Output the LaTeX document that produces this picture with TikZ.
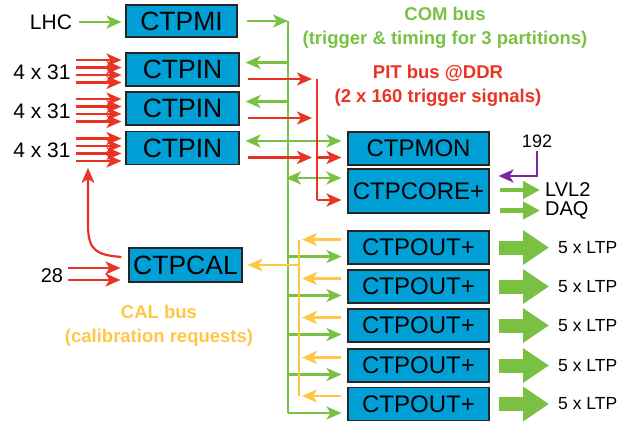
\documentclass[tikz,border=0pt]{standalone}
\usepackage{fontspec}
\setmainfont{Liberation Sans}
\usepackage{xcolor}
\usetikzlibrary{arrows.meta,calc}

\definecolor{ctpblue}{RGB}{0,160,215}
\definecolor{comgreen}{RGB}{122,193,67}
\definecolor{pitred}{RGB}{234,51,35}
\definecolor{calyellow}{RGB}{254,200,70}
\definecolor{lvlpurple}{RGB}{128,40,160}

\begin{document}
\begin{tikzpicture}[
  x=1pt, y=-1pt,
  unit/.style={draw=black!85, fill=ctpblue, line width=1.1pt, inner sep=0pt,
               font=\fontsize{26.5}{28}\selectfont},
  wideunit/.style={unit, minimum width=141pt, minimum height=33pt,
               font=\fontsize{24}{26}\selectfont},
  lbl/.style={font=\fontsize{21}{24}\selectfont},
  buslbl/.style={align=center, font=\bfseries\fontsize{18.5}{24}\selectfont},
  tip/.style={-{Stealth[length=15pt, width=13pt, inset=4pt]}},
  comline/.style={draw=comgreen, line width=2.6pt},
  comarrow/.style={comline, tip},
  comboth/.style={comline, {Stealth[length=15pt, width=13pt, inset=4pt]}-{Stealth[length=15pt, width=13pt, inset=4pt]}},
  pitline/.style={draw=pitred, line width=2.4pt},
  pitarrow/.style={pitline, tip},
  calline/.style={draw=calyellow, line width=2.6pt},
  calarrow/.style={calline, tip},
  trigarrow/.style={draw=lvlpurple, line width=2.6pt, tip},
  corearrow/.style={draw=comgreen, line width=4.5pt, -{Triangle[length=17pt, width=17pt]}},
  ltparrow/.style={draw=comgreen, line width=14pt, -{Triangle[length=26pt, width=33pt]}},
]
  \useasboundingbox (0,0) rectangle (623,422);

  % boards
  \node[unit, minimum width=111pt, minimum height=32pt] (mi) at (181.5,21) {CTPMI};
  \node[unit, minimum width=113pt, minimum height=33pt] (in1) at (182.5,69.5) {CTPIN};
  \node[unit, minimum width=113pt, minimum height=33pt] (in2) at (182.5,108.5) {CTPIN};
  \node[unit, minimum width=113pt, minimum height=33pt] (in3) at (182.5,148) {CTPIN};
  \node[unit, minimum width=113pt, minimum height=34pt] (cal) at (185.5,265) {CTPCAL};
  \node[wideunit] (mon) at (418.5,148.5) {CTPMON};
  \node[wideunit, minimum height=44pt] (core) at (418.5,191) {CTPCORE+};
  \foreach \i/\y in {1/247.5, 2/286.5, 3/325.5, 4/365.5, 5/404} {
    \node[wideunit] (out\i) at (418.5,\y) {CTPOUT+};
    \node[anchor=west, inner sep=1pt, font=\fontsize{17.5}{20}\selectfont] (ltp\i) at (557,\y) {5 x LTP};
  }

  % inputs and outputs
  \node[lbl] (lhc) at (51,22) {LHC};
  \node[lbl] (n1) at (42,72) {4 x 31};
  \node[lbl] (n2) at (42,111) {4 x 31};
  \node[lbl] (n3) at (42,150) {4 x 31};
  \node[font=\fontsize{20}{22}\selectfont] (calin) at (52,276) {28};
  \node[font=\fontsize{18}{20}\selectfont] (trig) at (537,141) {192};
  \node[anchor=west, inner sep=0pt, font=\fontsize{20}{22}\selectfont] (lvl) at (545,190) {LVL2};
  \node[anchor=west, inner sep=0pt, font=\fontsize{20}{22}\selectfont] (daq) at (545,210.5) {DAQ};

  % bus labels
  \node[buslbl, text=comgreen] (comlbl) at (445,28) {COM bus\\(trigger \& timing for 3 partitions)};
  \node[buslbl, text=pitred] (pitlbl) at (438,86) {PIT bus @DDR\\(2 x 160 trigger signals)};
  \node[buslbl, text=calyellow] (callbl) at (159,326) {CAL bus\\(calibration requests)};

  \coordinate (busTop) at (288,21);
  \coordinate (busBot) at (288,413);
  \coordinate (pitTop) at (317,79);
  \coordinate (pitBot) at (317,200);
  \coordinate (calTop) at (299,239.5);
  \coordinate (calBot) at (299,396);
  \coordinate (calfb) at (88,168);

  % COM bus
  \draw[comarrow, shorten <=3pt, shorten >=4pt] (lhc.east) -- (lhc.east -| mi.west);
  \draw[comline] (busTop) -- (busBot);
  \draw[comarrow, shorten <=9pt] (mi.east) -- (busTop);
  \foreach \i in {1,2,3} {
    \coordinate (g\i) at ($(in\i.east)+(0,-7)$);
    \coordinate (r\i) at ($(in\i.east)+(0,9.5)$);
  }
  \foreach \i in {1,2} {
    \draw[comarrow, shorten >=6pt] (g\i -| busTop) -- (g\i);
  }
  \draw[comboth, shorten <=6pt, shorten >=6pt] (g3) -- (g3 -| mon.west);
  \coordinate (gc) at ($(core.west)+(0,-13)$);
  \draw[comboth, shorten <=-2pt, shorten >=6pt] (gc -| busTop) -- (gc);
  \foreach \i in {1,...,5} {
    \coordinate (o\i) at ($(out\i.west)+(0,9)$);
    \draw[comarrow, shorten >=6pt] (o\i -| busTop) -- (o\i);
  }

  % PIT bus
  \draw[pitline] (pitTop) -- (pitBot);
  \foreach \i in {1,2,3} {
    \draw[pitarrow, shorten <=8pt, shorten >=5pt] (r\i) -- (r\i -| pitTop);
  }
  \draw[pitarrow, shorten >=6pt] (r3 -| pitTop) -- (r3 -| mon.west);
  \draw[pitarrow, shorten >=6pt] (pitBot) -- (pitBot -| core.west);

  % trigger inputs
  \foreach \i in {1,2,3} {
    \foreach \d in {-9.5,-2,5.5,13} {
      \draw[pitarrow, line width=2.2pt] ($(in\i.west)+(-49,\d)$) -- ($(in\i.west)+(-4,\d)$);
    }
  }
  \foreach \d in {3,15} {
    \draw[pitarrow, line width=2.2pt] ($(cal.west)+(-60,\d)$) -- ($(cal.west)+(-8,\d)$);
  }
  \draw[pitarrow, line width=2.2pt] ($(cal.west)+(-7,-8)$)
    .. controls (96,255) and (89,250) .. (88,228) -- (calfb);

  % CAL bus
  \draw[calline] (calTop) -- (calBot);
  \foreach \i in {1,...,5} {
    \coordinate (y\i) at ($(out\i.west)+(0,-8)$);
    \draw[calarrow, shorten <=6pt, shorten >=3pt] (y\i) -- (y\i -| calTop);
  }
  \draw[calarrow, shorten >=5pt] (cal -| calTop) -- (cal.east);

  % outputs
  \draw[trigarrow, shorten >=9pt] (trig.south) |- ($(core.east)+(0,-15)$);
  \draw[corearrow, shorten <=10pt, shorten >=5pt] (lvl -| core.east) -- (lvl.west);
  \draw[corearrow, shorten <=10pt, shorten >=5pt] (daq -| core.east) -- (daq.west);
  \foreach \i in {1,...,5} {
    \draw[ltparrow, shorten <=9pt, shorten >=8pt] (out\i.east) -- (ltp\i.west);
  }
\end{tikzpicture}
\end{document}
